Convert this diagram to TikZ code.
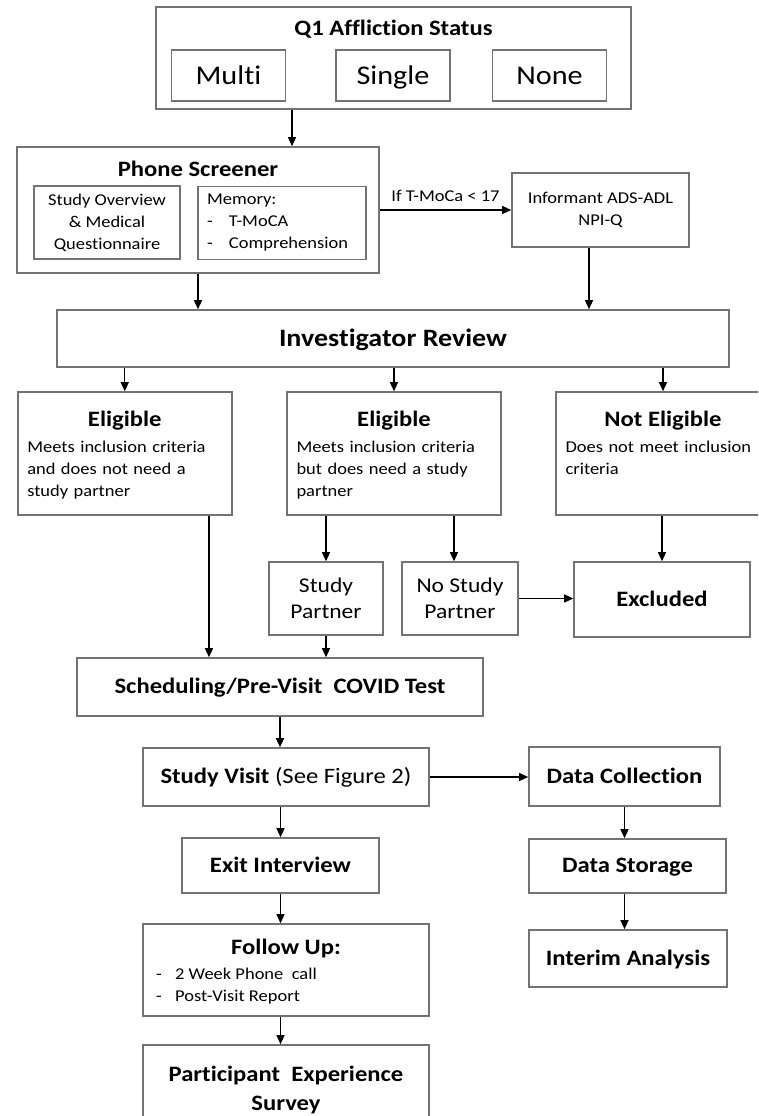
\documentclass[tikz,border=0pt]{standalone}
\usepackage{fontspec}
\setmainfont{Carlito}[FakeStretch=1.12, Ligatures={NoCommon,NoRequired,NoContextual}]
\usetikzlibrary{arrows.meta}

\begin{document}
\begin{tikzpicture}[x=1pt, y=-1pt,
  box/.style={draw=black!55, line width=1.6pt, inner sep=0pt, align=center},
  arr/.style={-{Triangle[length=9pt,width=8pt]}, line width=1.3pt},
  hd/.style={font=\fontsize{22}{29}\selectfont\bfseries},
  sm/.style={font=\fontsize{16.5}{22}\selectfont},
  one/.style={text height=0.63*#1pt, text depth=0pt}, one/.default=22]
\useasboundingbox (0,0) rectangle (758,1116);
\clip (0,0) rectangle (758,1116);
\node[box, minimum width=475pt, minimum height=102pt] (q1) at (393.5,58) {};
\node[hd] (q1t) at (393.5,29) {Q1 Affliction Status};
\foreach \n/\t/\x in {multi/Multi/228.5, single/Single/393, none/None/549.5}
  \node[box, one=27, minimum width=114pt, minimum height=51pt, font=\fontsize{27}{30}\selectfont] (\n) at (\x,75.5) {\t};
\node[box, minimum width=362pt, minimum height=126pt] (psc) at (198,210) {};
\node[hd] (psct) at (198,169) {Phone Screener};
\node[box, sm, minimum width=146pt, minimum height=73pt] (ovw) at (107,222.5) {Study Overview\\\& Medical\\Questionnaire};
\node[box, sm, minimum width=168pt, minimum height=73pt, text width=150pt, align=left] (mem) at (282,223) {Memory:\\\makebox[22pt][l]{-}T-MoCA\\\makebox[22pt][l]{-}Comprehension};
\node[box, sm, minimum width=177pt, minimum height=74pt] (inf) at (600.5,210) {Informant ADS-ADL\\NPI-Q};
\node[box, one=25, font=\fontsize{25}{30}\selectfont\bfseries, minimum width=672pt, minimum height=57pt] (ir) at (393,338.5) {Investigator Review};
\draw[arr] ([xshift=-101.5pt]q1.south) -- ([xshift=-101.5pt]q1.south |- psc.north);
\draw[arr] (psc.east) -- node[above=4pt, sm] (tmoca) {If T-MoCa < 17} (inf.west);
\draw[arr] (psc.south) -- (psc.south |- ir.north);
\draw[arr] ([xshift=-11.5pt]inf.south) -- ([xshift=-11.5pt]inf.south |- ir.north);
\foreach \n/\x/\t/\b in {el1/124.75/Eligible/{Meets inclusion criteria\\and does not need a\\study partner},
    el2/394/Eligible/{Meets inclusion criteria\\but does need a study\\partner},
    nel/663/Not Eligible/{Does not meet inclusion\\criteria}} {
  \node[box, minimum width=214pt, minimum height=123pt] (\n) at (\x,453.5) {};
  \node[hd] (\n-t) at (\x,421) {\t};
  \node[sm, text width=195pt, align=left, anchor=north, inner sep=0pt] (\n-b) at (\x,441) {\b};
  \draw[arr] (ir.south -| \n.north) -- (\n.north);
}
\node[box, font=\fontsize{21}{26}\selectfont, minimum width=114pt, minimum height=73pt] (sp) at (326,598.5) {Study\\Partner};
\node[box, font=\fontsize{21}{26}\selectfont, minimum width=116pt, minimum height=73pt] (nsp) at (460,598.5) {No Study\\Partner};
\node[box, hd, one, minimum width=176pt, minimum height=75pt] (exc) at (662,599.5) {Excluded};
\draw[arr] (el2.south -| sp.north) -- (sp.north);
\draw[arr] ([xshift=-6pt]nsp.north |- el2.south) -- ([xshift=-6pt]nsp.north);
\draw[arr] (nel.south -| exc.north) -- (exc.north);
\draw[arr] (nsp.east) -- (nsp.east -| exc.west);
\node[box, hd, one, minimum width=406pt, minimum height=58pt] (sched) at (280,687) {Scheduling/Pre-Visit\ \ COVID Test};
\draw[arr] ([xshift=84.25pt]el1.south) -- ([xshift=84.25pt]el1.south |- sched.north);
\draw[arr] (sp.south) -- (sp.south |- sched.north);
\node[box, one, font=\fontsize{22}{26}\selectfont, minimum width=286pt, minimum height=58pt] (svis) at (286,777) {\textbf{Study Visit} (See Figure 2)};
\draw[arr] (sched.south) -- (sched.south |- svis.north);
\node[box, hd, one, minimum width=191pt, minimum height=59pt] (dcol) at (624.5,776.5) {Data Collection};
\node[box, hd, one, minimum width=197pt, minimum height=54pt] (dsto) at (627.5,866) {Data Storage};
\node[box, hd, one, minimum width=198pt, minimum height=57pt] (ian) at (628,958.5) {Interim Analysis};
\draw[arr] (svis.east) -- (svis.east -| dcol.west);
\draw[arr] (dcol.south) -- (dcol.south |- dsto.north);
\draw[arr] (dcol.south |- dsto.south) -- (dcol.south |- ian.north);
\node[box, hd, one, minimum width=197pt, minimum height=55pt] (exi) at (280.5,865.5) {Exit Interview};
\node[box, minimum width=286pt, minimum height=92pt] (fup) at (286,970) {};
\node[hd] (fup-t) at (286,948) {Follow Up:};
\node[sm, align=left, anchor=north west, inner sep=0pt] (fup-l) at (156,968) {\makebox[19pt][l]{-}2 Week Phone\ \ call\\\makebox[19pt][l]{-}Post-Visit Report};
\node[box, hd, minimum width=286pt, minimum height=90pt] (pes) at (286,1090) {Participant\ \ Experience\\Survey};
\draw[arr] (svis.south -| exi.north) -- (exi.north);
\draw[arr] (exi.south) -- (exi.south |- fup.north);
\draw[arr] (exi.south |- fup.south) -- (exi.south |- pes.north);
\end{tikzpicture}
\end{document}
